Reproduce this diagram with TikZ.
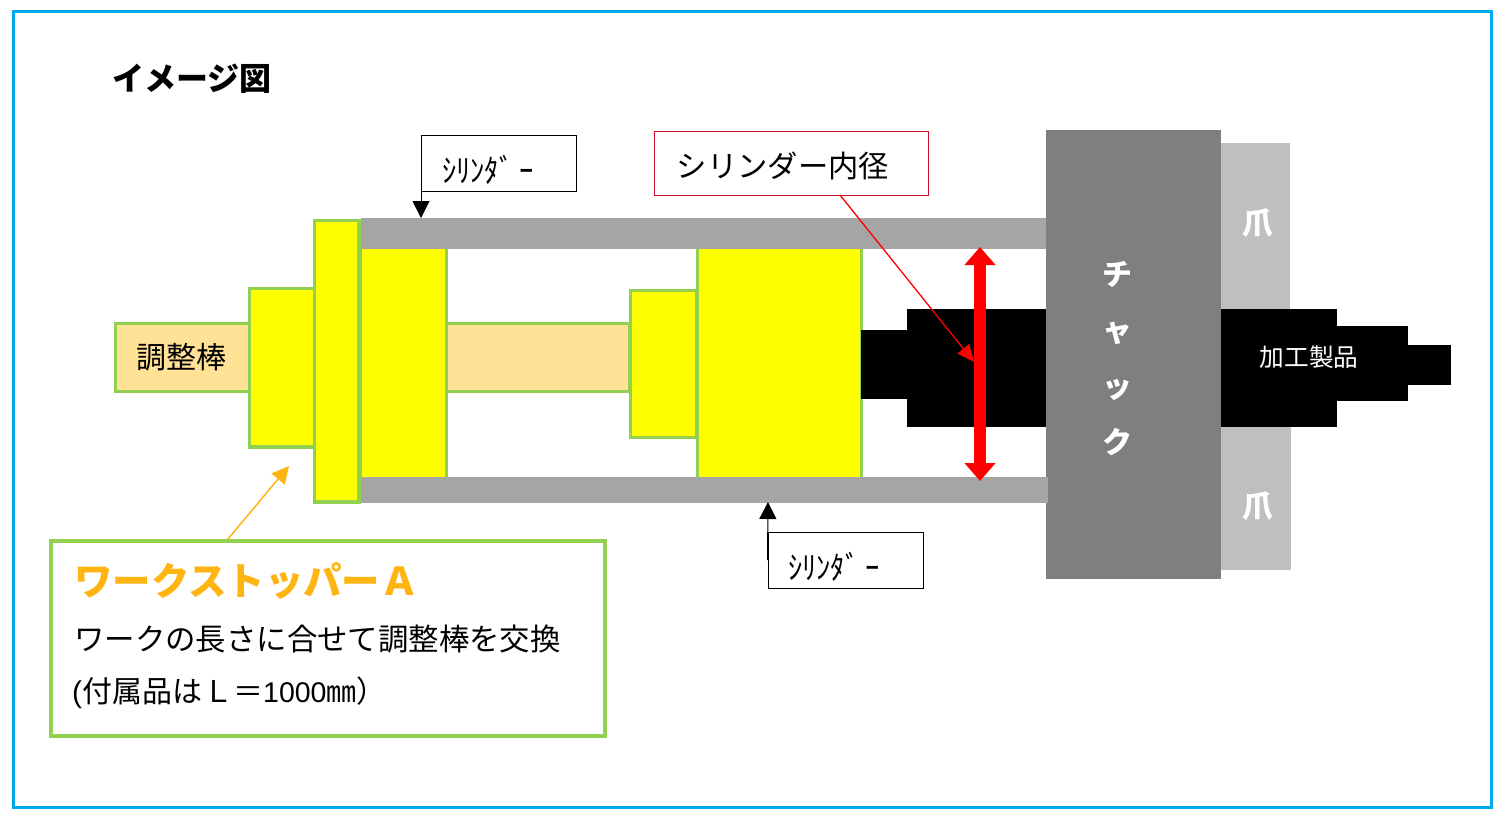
\documentclass[tikz,border=0pt]{standalone}
\usepackage{fontspec}
\setmainfont{Noto Sans CJK JP}
\newfontfamily\latinfont{Liberation Sans}
\usetikzlibrary{arrows.meta}
\definecolor{frameblue}{HTML}{00A8EC}
\definecolor{partgreen}{HTML}{92D050}
\definecolor{partyellow}{HTML}{FFFF00}
\definecolor{rodfill}{HTML}{FFE296}
\definecolor{tubegrey}{HTML}{A5A5A5}
\definecolor{chuckgrey}{HTML}{7F7F7F}
\definecolor{jawgrey}{HTML}{BFBFBF}
\definecolor{calloutorange}{HTML}{FFB511}
\definecolor{boxred}{HTML}{C8102E}
\definecolor{purered}{HTML}{FF0000}
\newcommand{\fsz}[1]{\fontsize{#1}{#1}\selectfont}
\tikzset{
  x=1pt,y=-1pt,
  part/.style={draw=partgreen,line width=3.5pt,fill=partyellow},
  rodpart/.style={draw=partgreen,line width=3.5pt,fill=rodfill},
  tube/.style={fill=tubegrey},
  work/.style={fill=black},
  label/.style={inner sep=0pt,anchor=center},
  noteblack/.style={draw=black,line width=1pt,fill=white,inner sep=0pt,minimum width=155pt,minimum height=56pt},
  blackarrow/.style={draw=black,line width=1pt,-{Triangle[length=17pt,width=17pt]}},
}
\begin{document}
\begin{tikzpicture}
\useasboundingbox (0,0) rectangle (1505,817);
\fill[white] (0,0) rectangle (1505,817);
\draw[frameblue,line width=3pt] (13.5,11.5) rectangle (1491.5,807.5);
\draw[rodpart] (115.5,323.5) rectangle (630,391.5);
\draw[part] (249.5,288.5) rectangle (315,447);
\draw[part] (360,240) rectangle (446.5,485);
\draw[part] (630.5,290.5) rectangle (697,437.5);
\draw[part] (697.5,240) rectangle (861.5,485);
\draw[part] (314.5,220.5) rectangle (359,502);
\fill[tube] (360.5,218) rectangle (1047,249);
\fill[work] (861,330) rectangle (907,399);
\fill[work] (907,309) rectangle (1047,427);
\fill[work] (1221,309) rectangle (1337,427);
\fill[work] (1337,326) rectangle (1408,401);
\fill[work] (1408,345) rectangle (1451,385);
\fill[jawgrey] (1220,143) rectangle (1290,309);
\fill[jawgrey] (1220,427) rectangle (1291,570);
\fill[chuckgrey] (1046,130) rectangle (1221,579);
\fill[tube] (360.5,477) rectangle (1048,503);
\node[label] (title) at (192,79) {\fsz{32}\bfseries イメージ図};
\node[label] (rodlabel) at (181,357) {\fsz{30}調整棒};
\node[label,text=white] (jawa) at (1258,223) {\fsz{31}\bfseries 爪};
\node[label,text=white] (jawb) at (1258,506) {\fsz{31}\bfseries 爪};
\node[label,text=white,align=center,font=\fontsize{30}{56}\selectfont\bfseries] (chucklabel) at (1117,359) {チ\\ャ\\ッ\\ク};
\node[label,text=white] (worklabel) at (1309,357) {\fsz{24.7}加工製品};
\node[noteblack] (cyltop) at (499,163) {};
\node[label] (cyltoptext) at (488,170) {\scalebox{1}[1.12]{\fsz{28.5}ｼﾘﾝﾀﾞ ｰ}};
\node[noteblack] (cylbot) at (845.5,560) {};
\node[label] (cylbottext) at (834,567) {\scalebox{1}[1.12]{\fsz{28.5}ｼﾘﾝﾀﾞ ｰ}};
\coordinate (tubetop) at (421,218);
\coordinate (tubebot) at (768,502);
\draw[blackarrow] (cyltop.west) -- (tubetop);
\draw[blackarrow] (cylbot.west) -- (tubebot);
\node[draw=boxred,line width=1pt,fill=white,inner sep=0pt,minimum width=274pt,minimum height=64pt] (borebox) at (791,163) {};
\node[label] (boretext) at (783,166) {\fsz{30.3}シリンダー内径};
\coordinate (boretop) at (980,247);
\coordinate (borebot) at (980,481);
\coordinate (borepoint) at (974,362);
\coordinate (borefoot) at (840,195);
\draw[purered,line width=12pt,{Triangle[length=18pt,width=30pt]}-{Triangle[length=18pt,width=30pt]}] (boretop) -- (borebot);
\draw[purered,line width=1.3pt,-{Triangle[length=17pt,width=15pt]}] (borefoot) -- (borepoint);
\node[draw=partgreen,line width=4pt,fill=white,inner sep=0pt,minimum width=554pt,minimum height=195pt] (callout) at (328,638.5) {};
\coordinate (calloutfoot) at (228,539);
\coordinate (stoppoint) at (289,466);
\draw[calloutorange,line width=1.5pt,-{Triangle[length=17pt,width=17pt]}] (calloutfoot) -- (stoppoint);
\node[label,anchor=west,text=calloutorange] (calloutname) at (74,581) {\fontsize{38.4}{38.4}\selectfont\bfseries ワークストッパーＡ};
\node[label,anchor=west] (calloutline) at (74,639) {\fsz{30.4}ワークの長さに合せて調整棒を交換};
\node[label,anchor=west] (calloutsize) at (72,692.5) {\fsz{30}{\latinfont(}付属品は\kern1pt Ｌ＝{\fsz{28.5}\latinfont 1000}㎜）};
\end{tikzpicture}
\end{document}
